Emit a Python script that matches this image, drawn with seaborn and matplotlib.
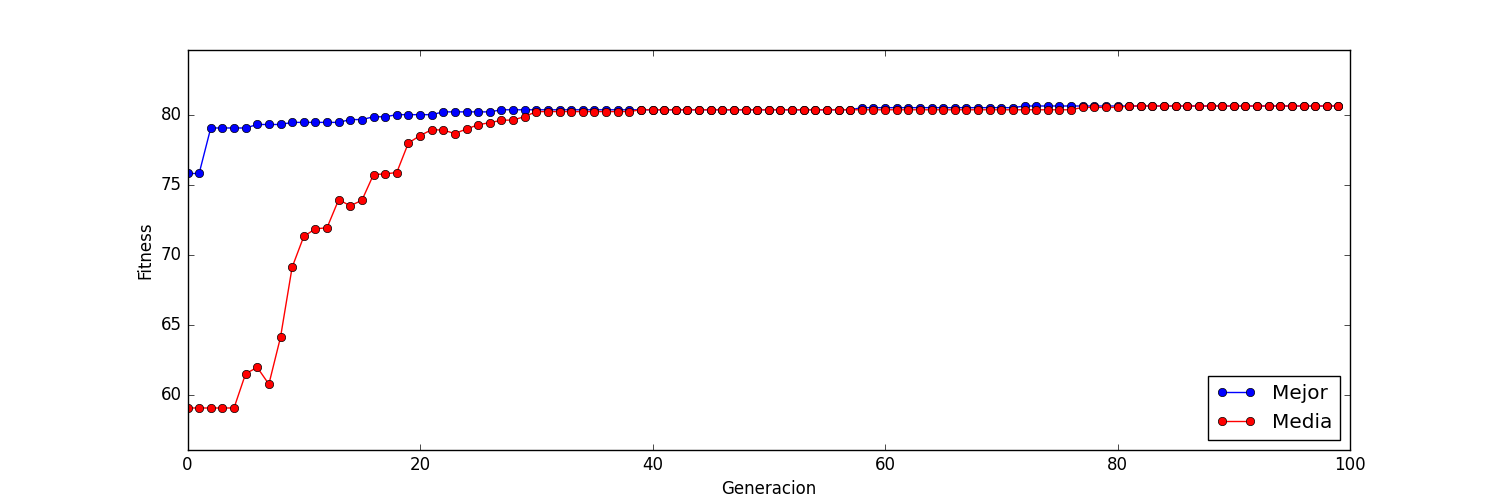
import pandas as pd
import matplotlib
matplotlib.use('Agg')
import matplotlib.pyplot as plt
import seaborn as sns

# DATOS
generacion = list(range(100))

mejor = [75.8, 75.8,
         79.05, 79.05, 79.05, 79.05,
         79.3, 79.3, 79.3,
         79.45, 79.45, 79.45, 79.45, 79.45,
         79.65, 79.65,
         79.85, 79.85,
         80.0, 80.0, 80.0, 80.0,
         80.2, 80.2, 80.2, 80.2, 80.2,
         80.35, 80.35, 80.35, 80.35, 80.35, 80.35, 80.35, 80.35, 80.35, 80.35,
         80.35, 80.35, 80.35, 80.35, 80.35, 80.35, 80.35, 80.35, 80.35, 80.35,
         80.35, 80.35, 80.35, 80.35, 80.35, 80.35, 80.35, 80.35, 80.35, 80.35,
         80.35,
         80.5, 80.5, 80.5, 80.5, 80.5, 80.5, 80.5, 80.5, 80.5, 80.5,
         80.5, 80.5, 80.5, 80.5,
         80.62, 80.62, 80.62, 80.62, 80.62, 80.62, 80.62, 80.62, 80.62, 80.62,
         80.62, 80.62, 80.62, 80.62, 80.62, 80.62, 80.62, 80.62, 80.62, 80.62,
         80.62, 80.62, 80.62, 80.62, 80.62, 80.62, 80.62, 80.62]

media = [59.05, 59.05, 59.05, 59.05, 59.05,
         61.5, 61.95, 60.75, 64.1, 69.1, 71.3, 71.85, 71.92, 73.92, 73.5,
         73.88, 75.72, 75.77, 75.87, 77.98, 78.5, 78.93, 78.9, 78.65, 78.98,
         79.28, 79.43, 79.6, 79.62, 79.86,
         80.22, 80.22, 80.22, 80.22, 80.22, 80.22, 80.22, 80.22, 80.22,
         80.35, 80.35, 80.35, 80.35, 80.35, 80.35, 80.35, 80.35, 80.35, 80.35,
         80.35, 80.35, 80.35, 80.35, 80.35, 80.35, 80.35, 80.35, 80.35, 80.35,
         80.35, 80.35, 80.35, 80.35, 80.35, 80.35, 80.35, 80.35, 80.35, 80.35,
         80.35, 80.35, 80.35, 80.35, 80.35, 80.35, 80.35, 80.35,
         80.52, 80.52, 80.52, 80.52,
         80.62, 80.62, 80.62, 80.62, 80.62, 80.62, 80.62, 80.62, 80.62, 80.62,
         80.62, 80.62, 80.62, 80.62, 80.62, 80.62, 80.62, 80.62, 80.62]

dados = pd.DataFrame({'Generacion': generacion, 'Mejor': mejor, 'Media': media})

# GRAFICO DE FITNESS POR GENERACION
plt.style.use('classic')
fig, ax = plt.subplots(figsize = (15, 5), dpi = 100)
fig.patch.set_facecolor('white')

sns.lineplot(x = 'Generacion', y = 'Mejor', data = dados, color = 'blue', marker = 'o',
             markersize = 6, markeredgecolor = 'black', markeredgewidth = 0.5,
             linewidth = 1, label = 'Mejor', ax = ax)
sns.lineplot(x = 'Generacion', y = 'Media', data = dados, color = 'red', marker = 'o',
             markersize = 6, markeredgecolor = 'black', markeredgewidth = 0.5,
             linewidth = 1, label = 'Media', ax = ax)

ax.set_xlim(0, 100)
ax.set_ylim(56.05, 84.62)
ax.set_xlabel('Generacion')
ax.set_ylabel('Fitness')
ax.legend(loc = 'lower right', numpoints = 2, fontsize = 'large')

plt.savefig('out.png', dpi = 100, facecolor = 'white')
